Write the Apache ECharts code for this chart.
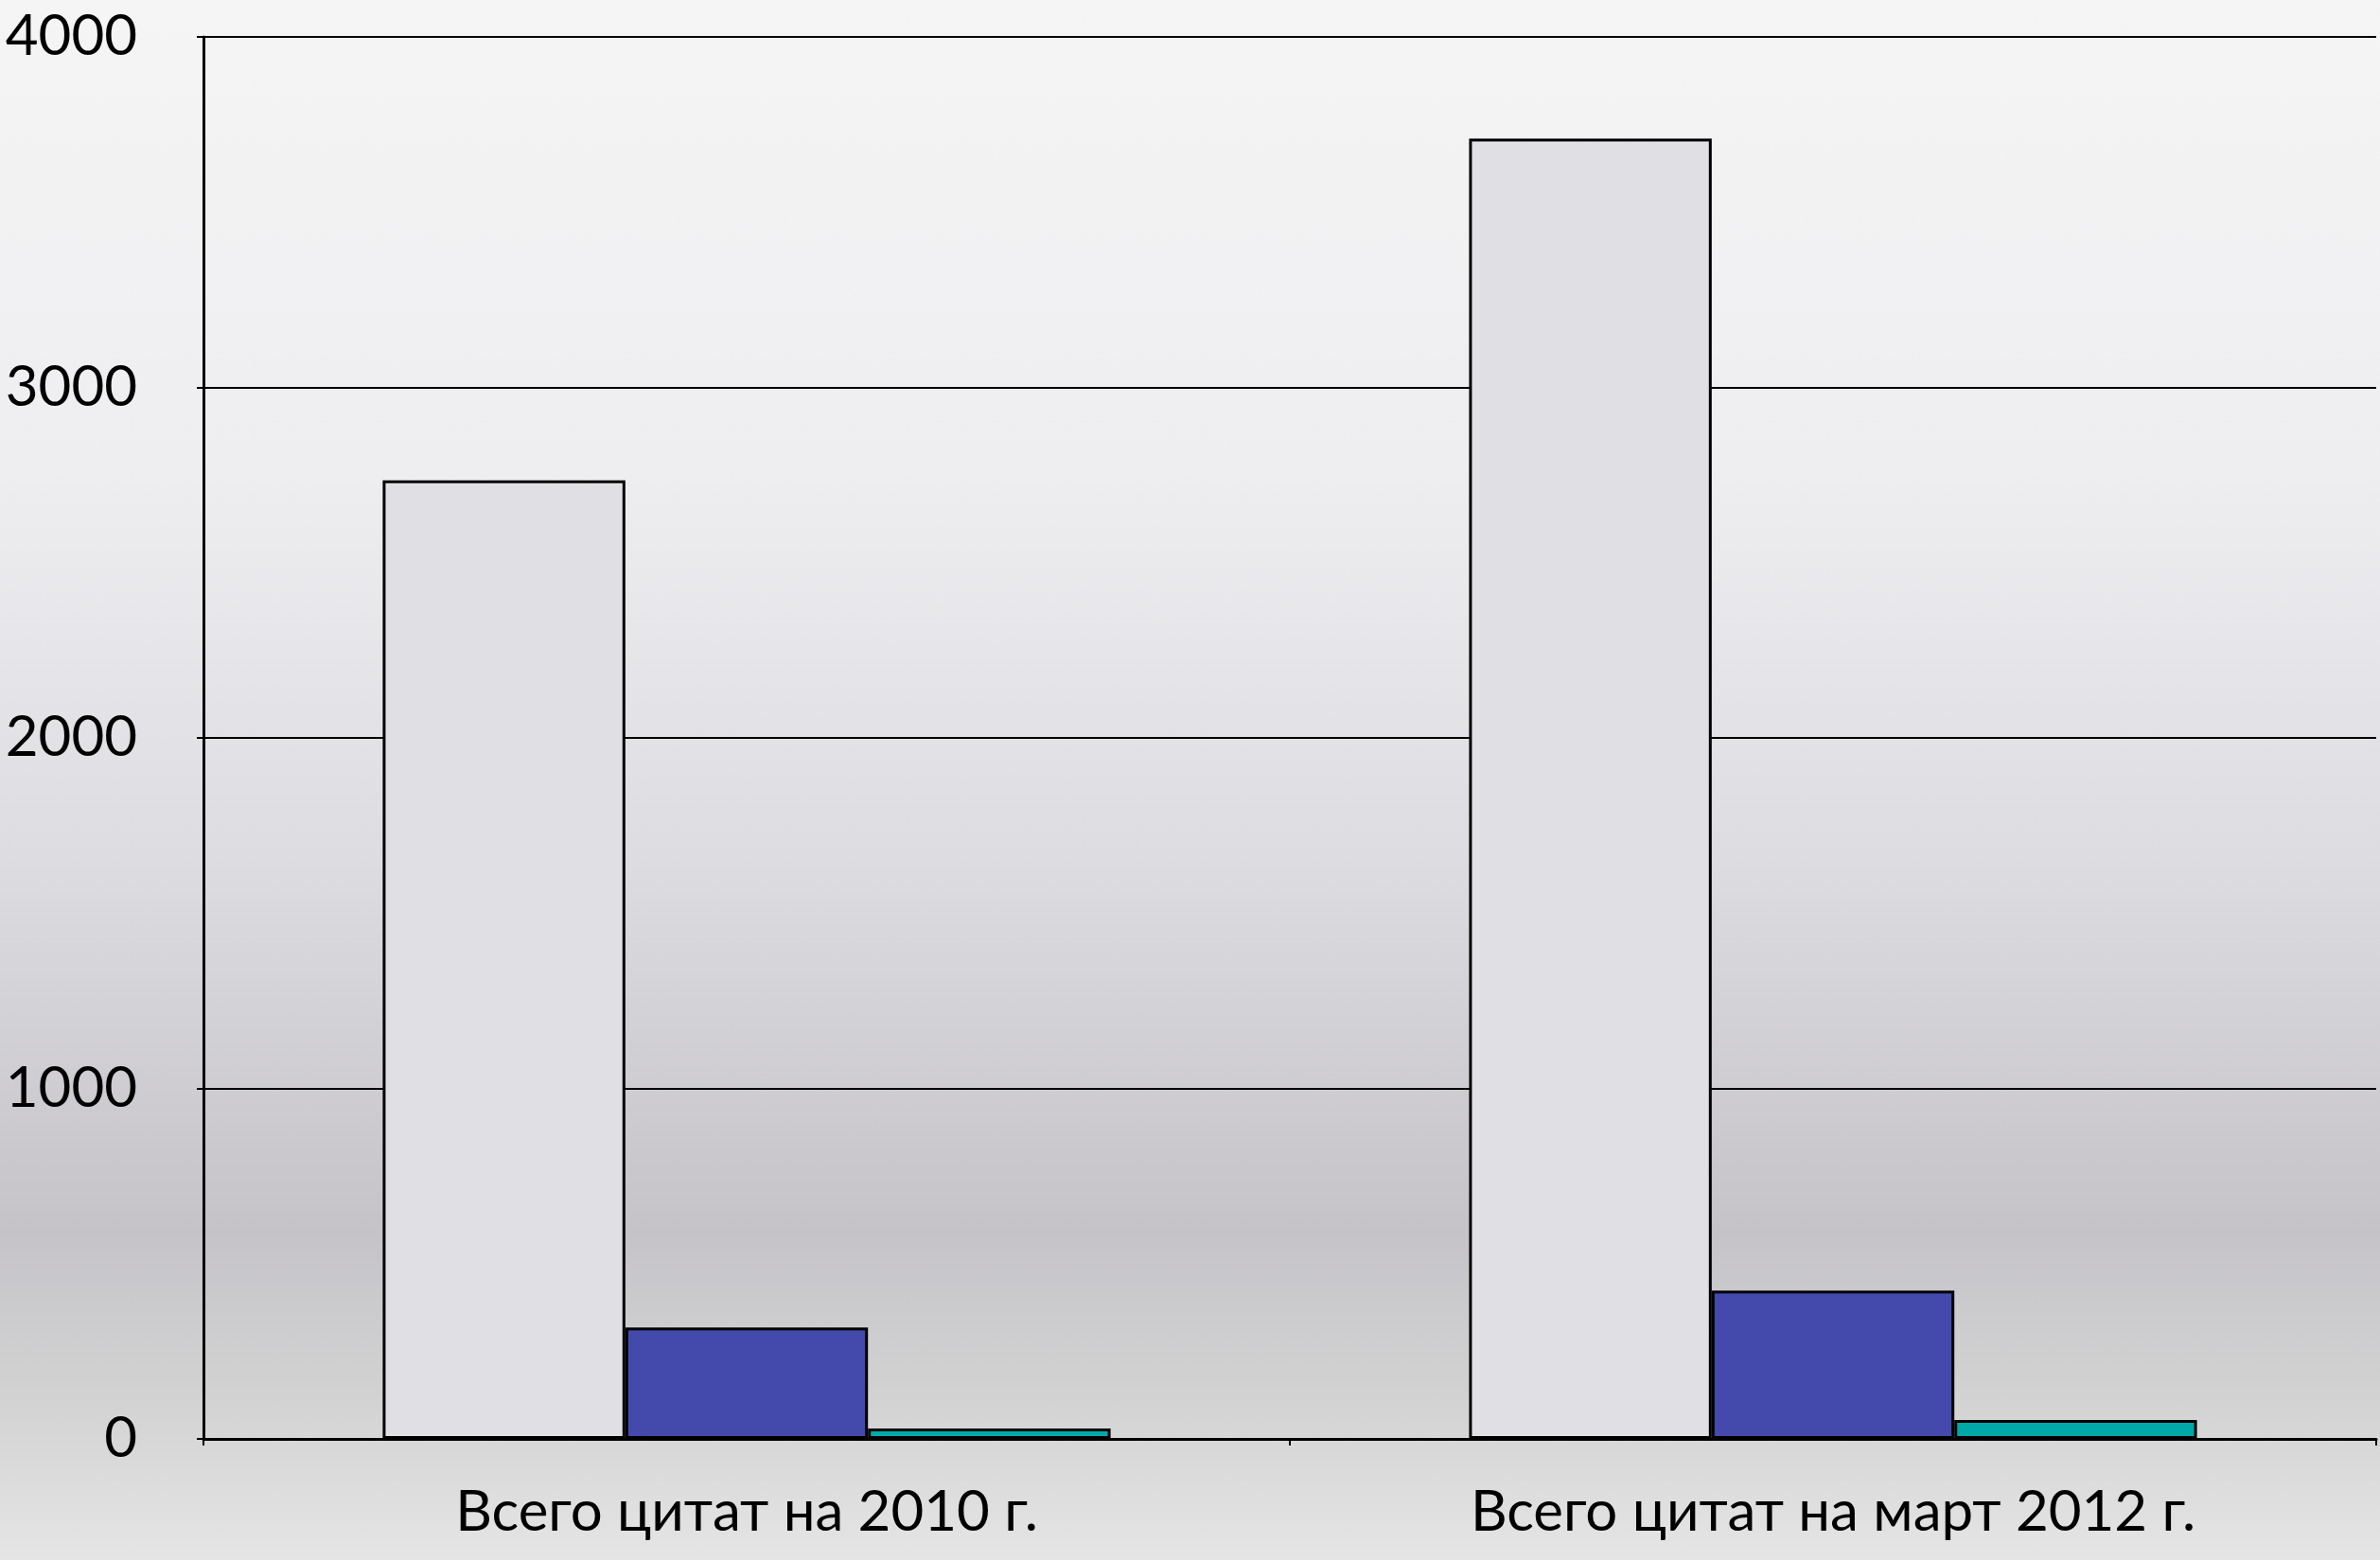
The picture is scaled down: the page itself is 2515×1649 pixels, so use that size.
<!DOCTYPE html>
<html>
<head>
<meta charset="utf-8">
<script src="https://cdn.jsdelivr.net/npm/echarts@6/dist/echarts.min.js"></script>
<style>
    html, body {
        margin: 0;
        padding: 0;
    }

    #chart {
        width: 2515px;
        height: 1649px;
    }
</style>
</head>
<body>
<div id="chart"></div>
<script>
    // данные
    var categories = ['Всего цитат на 2010 г.', 'Всего цитат на март 2012 г.'];
    var seriesNames = ['Ряд 1', 'Ряд 2', 'Ряд 3'];
    var totalValues = [2735, 3710];
    var blueValues = [318, 423];
    var tealValues = [30, 54];
    var yTicks = [0, 1000, 2000, 3000, 4000];

    var chart = echarts.init(document.getElementById('chart'));

    var barBorder = {borderColor: '#000', borderWidth: 3};

    var option = {
        backgroundColor: {
            type: 'linear', x: 0, y: 0, x2: 0, y2: 1,
            colorStops: [
                {offset: 0, color: '#f5f5f5'},
                {offset: 0.3, color: '#eeedf0'},
                {offset: 0.55, color: '#dddce0'},
                {offset: 0.79, color: '#c5c3c8'},
                {offset: 0.9, color: '#d3d3d3'},
                {offset: 1, color: '#e5e5e5'}
            ]
        },
        textStyle: {fontFamily: 'Lato'},
        animation: false,
        grid: {left: 215, right: 4, top: 39, bottom: 128},
        xAxis: {
            type: 'category',
            data: categories,
            axisLine: {lineStyle: {color: '#000', width: 3}},
            axisTick: {show: true, length: 7, lineStyle: {color: '#000', width: 2}},
            axisLabel: {color: '#000', fontSize: 60, margin: 48}
        },
        yAxis: {
            type: 'value',
            min: yTicks[0],
            max: yTicks[yTicks.length - 1],
            interval: 1000,
            axisLine: {show: true, lineStyle: {color: '#000', width: 3}},
            axisTick: {show: true, length: 7, lineStyle: {color: '#000', width: 2}},
            splitLine: {lineStyle: {color: '#000', width: 2}},
            axisLabel: {
                color: '#000',
                fontSize: 60,
                margin: 70,
                formatter: function (v) {
                    return String(v);
                }
            }
        },
        series: [
            {
                name: seriesNames[0],
                type: 'bar',
                data: totalValues,
                barGap: '0%',
                barCategoryGap: '33%',
                itemStyle: Object.assign({color: '#e0dfe4'}, barBorder)
            },
            {
                name: seriesNames[1],
                type: 'bar',
                data: blueValues,
                itemStyle: Object.assign({color: '#434aab'}, barBorder)
            },
            {
                name: seriesNames[2],
                type: 'bar',
                data: tealValues,
                itemStyle: Object.assign({color: '#00a8a8'}, barBorder)
            }
        ]
    };

    chart.setOption(option);
</script>
</body>
</html>
